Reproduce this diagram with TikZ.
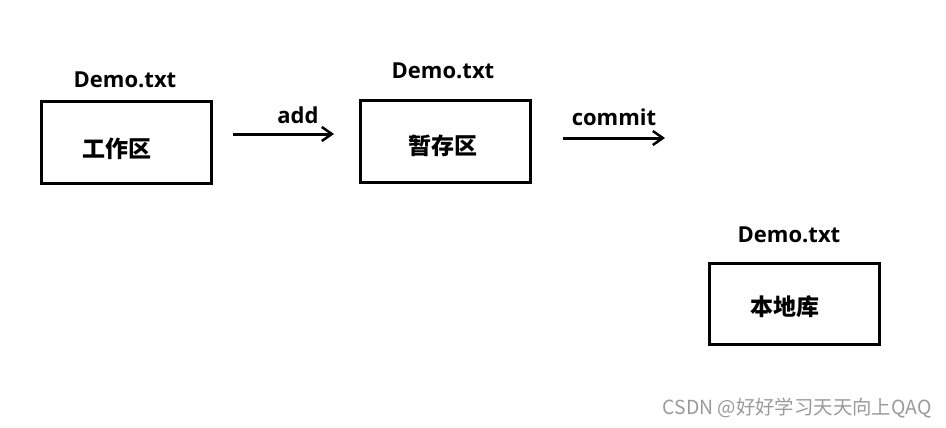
\documentclass[tikz,border=0pt]{standalone}
\usepackage{fontspec}
\setmainfont{Open Sans}
\newfontfamily\cjk{Noto Sans CJK SC}
\usetikzlibrary{arrows.meta}
\definecolor{wm}{HTML}{9A9A9A}
\tikzset{
  area/.style={draw=black, line width=3pt, minimum width=170pt, minimum height=81pt, inner sep=0pt},
  fname/.style={font=\fontsize{22}{22}\selectfont\bfseries, inner sep=0pt},
  zh/.style={font=\cjk\fontsize{23}{23}\selectfont\bfseries, inner sep=0pt},
  flow/.style={line width=3pt, -{Straight Barb[length=10pt, width=14pt, line width=2.5pt]}},
  oplabel/.style={font=\fontsize{22}{22}\selectfont\bfseries, inner sep=0pt}
}
\begin{document}
\begin{tikzpicture}[x=1pt, y=-1pt]
\useasboundingbox (0,0) rectangle (946,428);
\node[area] (wd) at (126,142.5) {};
\node[area] (st) at (445,141.5) {};
\node[area] (rp) at (794,303.5) {};
\node[fname] (f1) at (125,80) {Demo.txt};
\node[fname] (f2) at (443,71) {Demo.txt};
\node[fname] (f3) at (789,235) {Demo.txt};
\node[zh] (t1) at (117,149) {工作区};
\node[zh] (t2) at (443,146) {暂存区};
\node[zh] (t3) at (785,307) {本地库};
\coordinate (a1) at (233,134);
\coordinate (a2) at (334,134);
\coordinate (c1) at (563,138);
\coordinate (c2) at (665,138);
\draw[flow] (a1) -- (a2);
\draw[flow] (c1) -- (c2);
\node[oplabel] (la) at (298,115) {add};
\node[oplabel] (lc) at (614,117) {commit};
\node[font=\cjk\fontsize{19.4}{19.4}\selectfont, text=wm, inner sep=0pt] (w) at (797,408) {CSDN @好好学习天天向上QAQ};
\end{tikzpicture}
\end{document}
